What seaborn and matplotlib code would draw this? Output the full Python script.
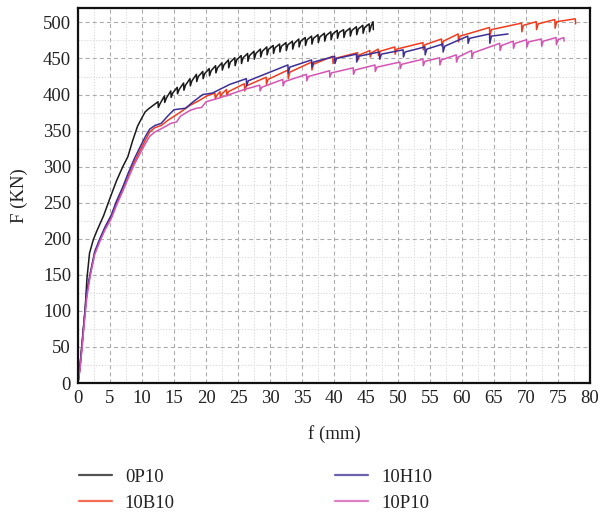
import matplotlib
matplotlib.use("Agg")
import matplotlib.pyplot as plt
import seaborn as sns
import pandas as pd
from matplotlib.ticker import MultipleLocator
from matplotlib.lines import Line2D

series_names = ["0P10", "10B10", "10H10", "10P10"]
series_colors = ["#1a1a1a", "#f03c1e", "#3b2f96", "#d455b4"]

# 0P10
bk_f = [0, 0.3, 0.7, 1.1, 1.4, 1.8, 2.4, 3.0, 4.0, 4.9, 6.0, 7.0, 7.8, 8.5, 9.3, 10.0, 10.5, 11.0, 11.6,
        12.5, 12.55, 12.8, 13.5, 13.55, 13.8, 14.5, 14.55, 14.8, 15.5, 15.55, 15.8,
        16.5, 16.55, 16.8, 17.5, 17.55, 17.8, 18.5, 18.55, 18.8, 19.5, 19.55, 19.8,
        20.5, 20.55, 20.8, 21.5, 21.55, 21.8, 22.5, 22.55, 22.8, 23.5, 23.55, 23.8,
        24.5, 24.55, 24.8, 25.5, 25.55, 25.8, 26.5, 26.55, 26.8, 27.5, 27.55, 27.8,
        28.5, 28.55, 28.8, 29.5, 29.55, 29.8, 30.5, 30.55, 30.8, 31.5, 31.55, 31.8,
        32.5, 32.55, 32.8, 33.5, 33.55, 33.8, 34.5, 34.55, 34.8, 35.5, 35.55, 35.8,
        36.5, 36.55, 36.8, 37.5, 37.55, 37.8, 38.5, 38.55, 38.8, 39.5, 39.55, 39.8,
        40.5, 40.55, 40.8, 41.5, 41.55, 41.8, 42.5, 42.55, 42.8, 43.5, 43.55, 43.8,
        44.5, 44.55, 44.8, 45.5, 45.55, 45.8, 46.1, 46.15]
bk_F = [0, 22, 60, 100, 145, 180, 199, 212, 232, 254, 280, 300, 314, 335, 356, 368, 376, 380, 384,
        390, 382, 387, 398, 389, 395, 405, 396, 402, 410, 401, 407,
        416, 406, 413, 422, 412, 419, 428, 418, 425, 432, 422, 429,
        436, 426, 433, 440, 430, 437, 444, 434, 441, 448, 437, 445,
        451, 440, 448, 454, 443, 451, 457, 446, 454, 460, 449, 457,
        463, 452, 460, 466, 455, 463, 468, 457, 465, 470, 459, 467,
        472, 461, 469, 474, 463, 471, 477, 466, 474, 479, 468, 476,
        481, 470, 478, 483, 472, 480, 485, 474, 482, 487, 476, 484,
        489, 478, 486, 490, 479, 487, 492, 481, 489, 494, 483, 491,
        496, 485, 493, 498, 487, 495, 501, 490]

# 10B10
rd_f = [0, 0.3, 0.6, 1.0, 1.4, 1.9, 2.6, 3.4, 4.2, 5.2, 6.0, 7.0, 7.8, 8.8, 9.8, 10.6, 11.2,
        12.0, 13.0, 14.0, 15.9, 17.5, 19.0, 20.1,
        21.4, 21.45, 21.7, 22.2, 22.25, 22.5, 23.2, 23.25, 23.5, 26.0, 26.05, 26.3,
        29.4, 29.45, 29.7, 32.8, 32.85, 33.1, 36.5, 36.55, 36.8, 39.8, 39.85, 40.1,
        43.7, 43.75, 44.0, 45.6, 45.65, 45.9, 46.9, 46.95, 47.2, 49.5, 49.55, 49.8,
        53.9, 53.95, 54.2, 56.8, 56.85, 57.1, 59.4, 59.45, 59.7, 64.3, 64.35, 64.6,
        69.3, 69.35, 69.6, 71.6, 71.65, 71.9, 74.5, 74.55, 74.8, 77.7, 77.75]
rd_F = [0, 20, 50, 90, 125, 150, 180, 198, 214, 230, 249, 268, 285, 306, 324, 338, 348,
        354, 357, 364, 375, 385, 392, 398,
        402, 394, 399, 404, 396, 401, 407, 398, 404, 415, 405, 412,
        424, 414, 421, 434, 422, 431, 445, 434, 442, 453, 443, 450,
        458, 448, 455, 461, 452, 458, 463, 454, 460, 466, 456, 463,
        472, 462, 469, 477, 467, 474, 484, 473, 481, 493, 481, 490,
        499, 487, 496, 501, 490, 498, 504, 492, 501, 505, 498]

# 10H10
bl_f = [0, 0.3, 0.6, 1.0, 1.4, 1.9, 2.6, 3.4, 4.2, 5.2, 6.0, 7.0, 7.8, 8.8, 9.8, 10.6, 11.2,
        12.0, 13.0, 14.0, 15.0, 16.8, 18.0, 19.5, 21.0, 23.7,
        26.3, 26.35, 26.6, 32.8, 32.85, 33.1, 36.5, 36.55, 36.8, 40.1, 40.15, 40.4,
        43.5, 43.55, 43.8, 47.1, 47.15, 47.4, 50.8, 50.85, 51.1, 54.2, 54.25, 54.5,
        57.0, 57.05, 57.3, 60.9, 60.95, 61.2, 64.3, 64.35, 64.6, 67.2]
bl_F = [0, 22, 52, 92, 128, 152, 182, 200, 216, 233, 252, 272, 290, 311, 329, 343, 352,
        357, 360, 370, 379, 381, 390, 400, 402, 414,
        422, 412, 419, 441, 430, 438, 448, 438, 445, 453, 443, 450,
        456, 445, 453, 459, 449, 456, 462, 452, 459, 466, 455, 463,
        470, 459, 467, 481, 471, 478, 484, 471, 481, 484]

# 10P10
pk_f = [0, 0.3, 0.6, 1.0, 1.4, 1.9, 2.6, 3.4, 4.2, 5.2, 6.0, 7.0, 7.8, 8.8, 9.8, 10.6, 11.2,
        12.0, 13.3, 14.5, 15.4, 16.0, 17.5, 18.5, 19.3, 20.0, 22.0, 24.0, 26.0,
        28.4, 28.45, 28.7, 32.0, 32.05, 32.3, 35.7, 35.75, 36.0, 39.3, 39.35, 39.6,
        43.0, 43.05, 43.3, 46.4, 46.45, 46.7, 50.3, 50.35, 50.6, 53.9, 53.95, 54.2,
        56.5, 56.55, 56.8, 59.1, 59.15, 59.4, 61.5, 61.55, 61.8, 65.9, 65.95, 66.2,
        68.0, 68.05, 68.3, 70.1, 70.15, 70.4, 72.4, 72.45, 72.7, 74.7, 74.75, 75.0,
        75.9, 75.95]
pk_F = [0, 18, 45, 85, 120, 148, 178, 196, 212, 228, 246, 266, 283, 303, 320, 333, 342,
        348, 354, 360, 362, 370, 378, 381, 382, 390, 395, 401, 407,
        413, 405, 410, 421, 412, 418, 428, 419, 425, 433, 424, 430,
        437, 428, 434, 441, 432, 438, 445, 436, 442, 449, 440, 446,
        451, 441, 448, 455, 445, 452, 461, 451, 458, 471, 461, 468,
        474, 464, 471, 476, 466, 473, 477, 467, 474, 479, 469, 476,
        479, 474]

x_ticks = list(range(0, 81, 5))
y_ticks = list(range(0, 501, 50))

frames = []
for name, fs, Fs in zip(series_names, [bk_f, rd_f, bl_f, pk_f], [bk_F, rd_F, bl_F, pk_F]):
    frames.append(pd.DataFrame({"f": fs, "F": Fs, "series": name}))
df = pd.concat(frames, ignore_index=True)

sns.set_theme(style="white")
plt.rcParams["font.family"] = ["Liberation Serif", "DejaVu Serif"]

fig = plt.figure(figsize=(6.03, 5.15), dpi=100)
ax = fig.add_axes([78 / 603, 1 - 383 / 515, (590 - 78) / 603, (383 - 8) / 515])

sns.lineplot(data=df, x="f", y="F", hue="series", hue_order=series_names,
             palette=dict(zip(series_names, series_colors)), units="series",
             estimator=None, sort=False, linewidth=1.1, legend=False, ax=ax)

ax.set_xlim(0, 80)
ax.set_ylim(0, 520)
ax.set_xticks(x_ticks)
ax.set_yticks(y_ticks)
ax.xaxis.set_minor_locator(MultipleLocator(2.5))
ax.yaxis.set_minor_locator(MultipleLocator(25))
ax.grid(which="major", color="#ababab", linestyle=(0, (3.6, 2.8)), linewidth=0.8)
ax.grid(which="minor", color="#dadada", linestyle=(0, (1.4, 1.6)), linewidth=0.7)
ax.set_axisbelow(True)
for s in ax.spines.values():
    s.set_visible(True)
    s.set_color("#111111")
    s.set_linewidth(1.6)
ax.tick_params(which="major", direction="in", length=6, width=1.2, colors="#111111",
               labelsize=13.5, labelcolor="#222222", pad=5, top=False, right=False)
ax.tick_params(which="minor", direction="in", length=3, width=1.0, colors="#111111",
               top=False, right=False)
ax.set_xlabel("f (mm)", fontsize=13.5, color="#222222", labelpad=13)
ax.set_ylabel("F (KN)", fontsize=13.5, color="#222222", labelpad=11)

handles = [Line2D([0], [0], color=c, lw=1.6, alpha=0.75) for c in series_colors]
fig.legend(handles, series_names, ncol=2, loc="upper left",
           bbox_to_anchor=(62 / 603, 1 - 452 / 515), frameon=False, fontsize=13.5,
           handlelength=1.75, handletextpad=0.7, columnspacing=8.55, labelspacing=0.45,
           labelcolor="#222222")

fig.savefig("out.png", dpi=100)
